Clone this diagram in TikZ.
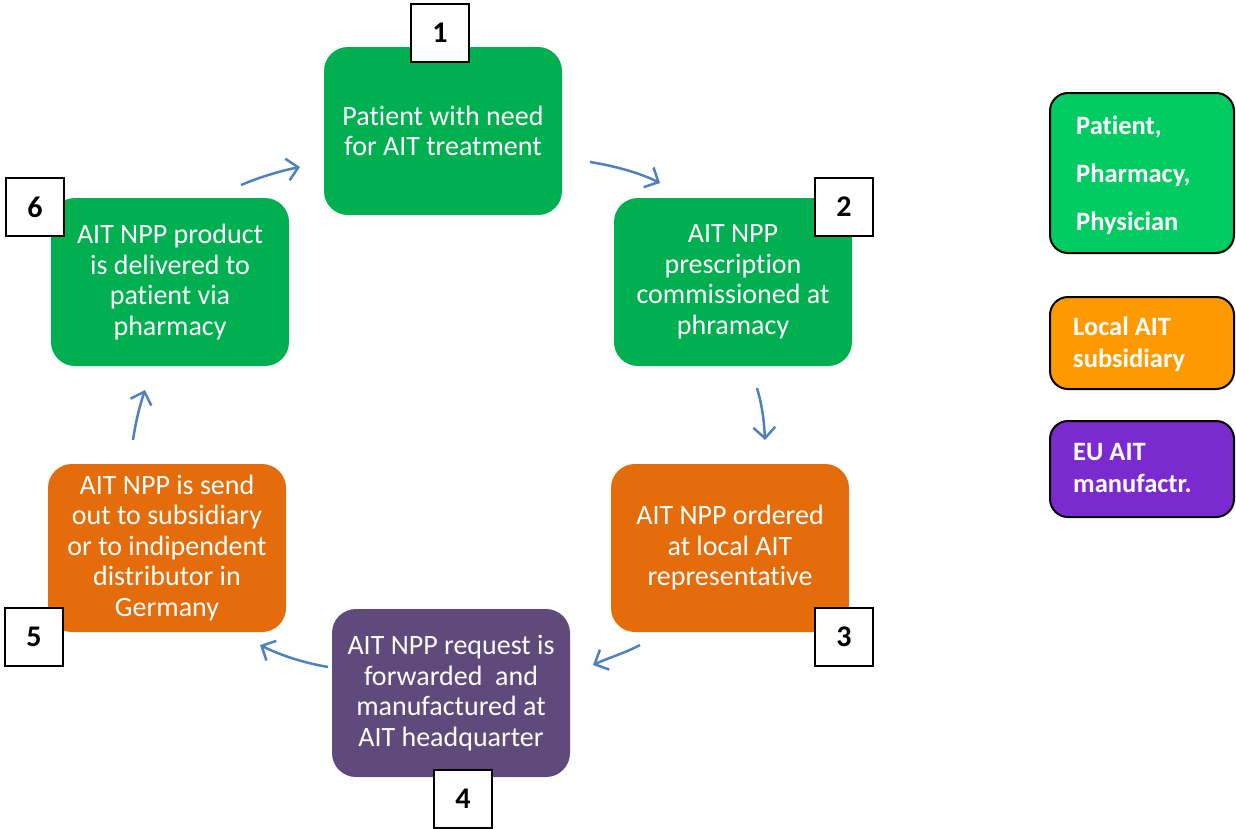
\documentclass[tikz,border=0pt]{standalone}
\usepackage{fontspec}
\setmainfont{Carlito}[Ligatures=NoCommon]
\usetikzlibrary{arrows.meta}
\definecolor{stepgreen}{HTML}{00B050}
\definecolor{steporange}{HTML}{E46C0A}
\definecolor{steppurple}{HTML}{604A7B}
\definecolor{keygreen}{HTML}{00CC62}
\definecolor{keyorange}{HTML}{FF9900}
\definecolor{keypurple}{HTML}{7B2AD0}
\definecolor{flowblue}{HTML}{4F81BD}
\tikzset{
  stepbox/.style={rounded corners=24pt, minimum width=238pt, minimum height=168pt,
    text=white, align=center, inner sep=0pt,
    font=\fontsize{28}{30.5}\selectfont},
  numbox/.style={draw=black, line width=2pt, fill=white, minimum width=58pt,
    minimum height=58pt, inner sep=0pt, font=\fontsize{30}{32}\selectfont\bfseries},
  keybox/.style={draw=black, line width=2pt, rounded corners=18pt, minimum width=184pt,
    inner sep=0pt},
  keytext/.style={anchor=west, text=white, align=left, inner sep=0pt},
  flow/.style={draw=flowblue, line width=2.5pt,
    -{Straight Barb[length=11pt, width=22pt, line width=2.5pt]}}
}
\begin{document}
\begin{tikzpicture}[x=1pt, y=-1pt]
\useasboundingbox (0,0) rectangle (1236,828);

% process steps
\node[stepbox, fill=stepgreen]  (s1) at (443,131) {Patient with need\\for AIT treatment};
\node[stepbox, fill=stepgreen]  (s2) at (733,282) {AIT NPP\\prescription\\commissioned at\\phramacy};
\node[stepbox, fill=steporange] (s3) at (730,548) {AIT NPP ordered\\at local AIT\\representative};
\node[stepbox, fill=steppurple] (s4) at (451,693) {AIT NPP request is\\forwarded\ \ and\\manufactured at\\AIT headquarter};
\node[stepbox, fill=steporange] (s5) at (167,548) {AIT NPP is send\\out to subsidiary\\or to indipendent\\distributor in\\Germany};
\node[stepbox, fill=stepgreen]  (s6) at (170,282) {AIT NPP product\\is delivered to\\patient via\\pharmacy};

% step numbers
\node[numbox] (n1) at (440,33)  {1};
\node[numbox] (n2) at (844,207) {2};
\node[numbox] (n3) at (844,637) {3};
\node[numbox] (n4) at (463,799) {4};
\node[numbox] (n5) at (34,637)  {5};
\node[numbox] (n6) at (35,207)  {6};

% arrow end points between the steps
\coordinate (a61) at (241,185); \coordinate (b61) at (300,167);
\coordinate (a12) at (590,162); \coordinate (b12) at (660,183);
\coordinate (a23) at (757,388); \coordinate (b23) at (765,440);
\coordinate (a34) at (640,645); \coordinate (b34) at (593,665);
\coordinate (a45) at (328,667); \coordinate (b45) at (260,645);
\coordinate (a56) at (133,440); \coordinate (b56) at (145,390);

\draw[flow] (a61) .. controls (260,177) and (280,171) .. (b61);
\draw[flow] (a12) .. controls (615,166) and (640,173) .. (b12);
\draw[flow] (a23) .. controls (762,405) and (764,420) .. (b23);
\draw[flow] (a34) .. controls (625,653) and (608,658) .. (b34);
\draw[flow] (a45) .. controls (305,663) and (282,656) .. (b45);
\draw[flow] (a56) .. controls (136,420) and (140,405) .. (b56);

% legend
\node[keybox, fill=keygreen, minimum height=160pt] (k1) at (1142,173) {};
\node[keytext, font=\fontsize{26.5}{48}\selectfont\bfseries] (k1t) at (1076,175)
      {Patient,\\Pharmacy,\\Physician};
\node[keybox, fill=keyorange, minimum height=92pt] (k2) at (1142,343) {};
\node[keytext, font=\fontsize{26.5}{32}\selectfont\bfseries] (k2t) at (1073,344)
      {Local AIT\\subsidiary};
\node[keybox, fill=keypurple, minimum height=96pt] (k3) at (1142,469) {};
\node[keytext, font=\fontsize{26.5}{32}\selectfont\bfseries] (k3t) at (1073,468)
      {EU AIT\\manufactr.};
\end{tikzpicture}
\end{document}
